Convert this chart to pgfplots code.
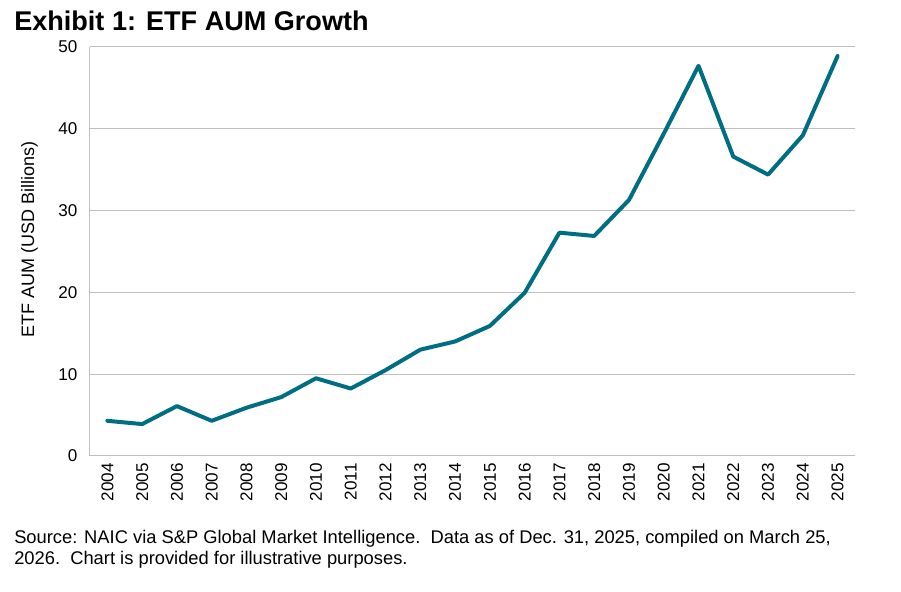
\documentclass[border=0pt]{standalone}
\usepackage{pgfplots}
\pgfplotsset{compat=1.18}
\usepackage{fontspec}
\setmainfont{Liberation Sans}
\definecolor{etfline}{RGB}{0,110,130}
\definecolor{gridgray}{RGB}{191,191,191}
\begin{document}
\begin{tikzpicture}[x=1pt,y=1pt]
\path[use as bounding box] (0,0) rectangle (675.75,444);
\node[anchor=base west,inner sep=0pt,font=\bfseries\fontsize{20.3}{22}\selectfont] at (10.5,421) {Exhibit 1: ETF AUM Growth};
\begin{axis}[
  at={(67.5pt,102pt)}, anchor=south west,
  scale only axis, width=573.75pt, height=306.75pt,
  xmin=-0.5, xmax=21.5, ymin=0, ymax=50,
  xtick={0,...,21},
  xticklabels={2004,2005,2006,2007,2008,2009,2010,2011,2012,2013,2014,2015,2016,2017,2018,2019,2020,2021,2022,2023,2024,2025},
  ytick={0,10,20,30,40,50},
  axis x line*=bottom, axis y line*=left,
  axis line style={draw=gridgray,line width=0.75pt,-},
  major tick length=0pt,
  ymajorgrids, grid style={draw=gridgray,line width=0.75pt},
  tick label style={font=\fontsize{12.8}{14}\selectfont},
  /pgf/number format/assume math mode=true,
  xticklabel style={rotate=90,anchor=east,xshift=-2pt},
  yticklabel style={xshift=-6pt},
  ylabel={ETF AUM (USD Billions)},
  ylabel style={font=\fontsize{13.5}{15}\selectfont,at={(axis description cs:-0.079,0.53)},anchor=center,rotate=0},
]
\addplot[etfline,line width=3pt,line join=round,line cap=round] coordinates {
(0,4.3) (1,3.9) (2,6.1) (3,4.3) (4,5.9) (5,7.2) (6,9.5) (7,8.25) (8,10.5) (9,13.0) (10,14.0) (11,15.9) (12,19.95) (13,27.3) (14,26.9) (15,31.3) (16,39.4) (17,47.7) (18,36.6) (19,34.4) (20,39.2) (21,48.9)
};
\end{axis}
\node[anchor=base west,inner sep=0pt,align=left,font=\fontsize{13.75}{15.75}\selectfont] at (10.5,20.5) {Source: NAIC via S\&P Global Market Intelligence.\ \ Data as of Dec. 31, 2025, compiled on March 25,\\2026.\ \ Chart is provided for illustrative purposes.};
\end{tikzpicture}
\end{document}
